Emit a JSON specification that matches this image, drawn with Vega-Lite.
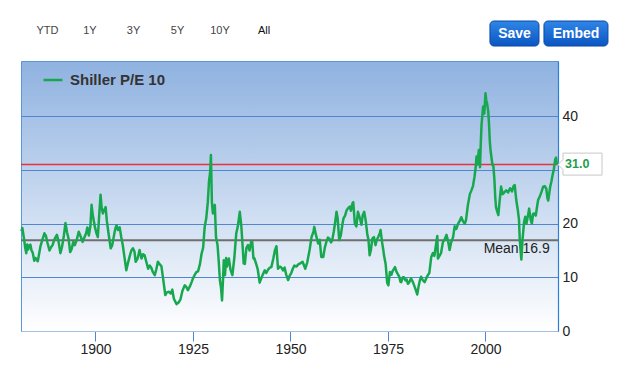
{
  "$schema": "https://vega.github.io/schema/vega-lite/v6.json",
  "width": 537,
  "height": 270,
  "autosize": "none",
  "padding": {"left": 21, "top": 61, "right": 82, "bottom": 43},
  "background": "#ffffff",
  "config": {
    "font": "Liberation Sans",
    "view": {
      "stroke": "#5896dd",
      "strokeWidth": 1,
      "fill": {"gradient": "linear", "x1": 0, "y1": 0, "x2": 0, "y2": 1,
        "stops": [{"offset": 0, "color": "#8fb2e0"}, {"offset": 1, "color": "#ffffff"}]}
    }
  },
  "layer": [
    {
      "data": {"values": [{}]},
      "mark": {"type": "rule", "color": "#6e6e6e", "strokeWidth": 2},
      "encoding": {"y": {"datum": 16.9, "type": "quantitative", "scale": {"domain": [0, 50.3], "nice": false}}}
    },
    {
      "data": {"values": [{}]},
      "mark": {"type": "rule", "color": "#e8313a", "strokeWidth": 1.5},
      "encoding": {"y": {"datum": 31.0, "type": "quantitative"}}
    },
    {
      "data": {"values": [{}]},
      "mark": {"type": "text", "align": "right", "baseline": "alphabetic", "dy": 12.4, "fontSize": 14, "color": "#222222"},
      "encoding": {
        "x": {"datum": 2016.5, "type": "quantitative"},
        "y": {"datum": 16.9, "type": "quantitative"},
        "text": {"value": "Mean:16.9"}
      }
    },
    {
      "data": {"values": [
        {"year":1881.0,"pe":18.6},{"year":1881.25,"pe":19.2},{"year":1881.5,"pe":18.0},{"year":1881.75,"pe":16.8},
        {"year":1882.0,"pe":15.4},{"year":1882.25,"pe":14.5},{"year":1882.5,"pe":16.1},{"year":1882.75,"pe":15.2},
        {"year":1883.0,"pe":15.9},{"year":1883.3,"pe":16.1},{"year":1883.6,"pe":15.0},{"year":1883.9,"pe":14.6},
        {"year":1884.3,"pe":13.1},{"year":1884.6,"pe":13.6},{"year":1884.9,"pe":13.3},{"year":1885.2,"pe":13.0},
        {"year":1885.5,"pe":14.2},{"year":1885.9,"pe":15.8},{"year":1886.3,"pe":16.8},{"year":1886.9,"pe":18.2},
        {"year":1887.3,"pe":17.7},{"year":1887.7,"pe":16.4},{"year":1888.2,"pe":15.0},{"year":1888.6,"pe":15.6},
        {"year":1889.0,"pe":16.0},{"year":1889.5,"pe":17.1},{"year":1890.1,"pe":17.9},{"year":1890.5,"pe":16.8},
        {"year":1891.0,"pe":14.5},{"year":1891.4,"pe":15.6},{"year":1891.9,"pe":17.8},{"year":1892.3,"pe":20.1},
        {"year":1892.7,"pe":18.4},{"year":1893.1,"pe":17.2},{"year":1893.5,"pe":14.7},{"year":1893.9,"pe":15.3},
        {"year":1894.3,"pe":16.6},{"year":1894.7,"pe":16.0},{"year":1895.2,"pe":17.0},{"year":1895.7,"pe":18.5},
        {"year":1896.2,"pe":17.6},{"year":1896.7,"pe":16.6},{"year":1897.2,"pe":17.5},{"year":1897.6,"pe":18.2},
        {"year":1897.9,"pe":19.3},{"year":1898.3,"pe":17.8},{"year":1898.7,"pe":19.6},{"year":1899.0,"pe":23.5},
        {"year":1899.3,"pe":21.6},{"year":1899.6,"pe":20.4},{"year":1899.9,"pe":19.2},{"year":1900.3,"pe":18.1},
        {"year":1900.6,"pe":17.5},{"year":1900.9,"pe":21.0},{"year":1901.3,"pe":25.4},{"year":1901.6,"pe":22.8},
        {"year":1901.9,"pe":21.9},{"year":1902.2,"pe":22.5},{"year":1902.6,"pe":23.1},{"year":1902.9,"pe":20.6},
        {"year":1903.3,"pe":18.4},{"year":1903.9,"pe":15.4},{"year":1904.3,"pe":16.0},{"year":1904.8,"pe":18.0},
        {"year":1905.1,"pe":19.1},{"year":1905.4,"pe":19.7},{"year":1905.8,"pe":18.8},{"year":1906.2,"pe":19.3},
        {"year":1906.6,"pe":17.5},{"year":1907.0,"pe":16.0},{"year":1907.5,"pe":13.4},{"year":1907.9,"pe":11.3},
        {"year":1908.3,"pe":12.6},{"year":1908.8,"pe":14.0},{"year":1909.2,"pe":15.0},{"year":1909.6,"pe":15.4},
        {"year":1910.0,"pe":14.8},{"year":1910.3,"pe":12.9},{"year":1910.8,"pe":13.5},{"year":1911.3,"pe":15.1},
        {"year":1911.8,"pe":13.5},{"year":1912.2,"pe":14.3},{"year":1912.6,"pe":14.1},{"year":1913.0,"pe":13.0},
        {"year":1913.5,"pe":11.6},{"year":1913.9,"pe":12.2},{"year":1914.3,"pe":11.8},{"year":1914.7,"pe":11.0},
        {"year":1915.2,"pe":10.4},{"year":1915.6,"pe":11.5},{"year":1916.0,"pe":12.9},{"year":1916.5,"pe":12.4},
        {"year":1916.9,"pe":12.1},{"year":1917.3,"pe":10.0},{"year":1917.9,"pe":6.7},{"year":1918.3,"pe":7.2},
        {"year":1918.8,"pe":7.3},{"year":1919.3,"pe":7.0},{"year":1919.7,"pe":7.7},{"year":1920.1,"pe":6.0},
        {"year":1920.8,"pe":5.0},{"year":1921.3,"pe":5.3},{"year":1921.8,"pe":5.9},{"year":1922.3,"pe":7.5},
        {"year":1922.9,"pe":8.5},{"year":1923.3,"pe":8.2},{"year":1923.7,"pe":7.6},{"year":1924.2,"pe":8.3},
        {"year":1924.7,"pe":9.2},{"year":1925.0,"pe":9.8},{"year":1925.4,"pe":10.4},{"year":1925.9,"pe":11.0},
        {"year":1926.3,"pe":11.1},{"year":1926.8,"pe":12.5},{"year":1927.2,"pe":14.4},{"year":1927.6,"pe":15.5},
        {"year":1928.0,"pe":19.4},{"year":1928.4,"pe":21.0},{"year":1928.8,"pe":24.0},{"year":1929.1,"pe":27.8},
        {"year":1929.4,"pe":29.6},{"year":1929.6,"pe":32.8},{"year":1929.85,"pe":24.0},{"year":1930.1,"pe":21.9},
        {"year":1930.3,"pe":22.6},{"year":1930.6,"pe":23.5},{"year":1930.9,"pe":17.5},{"year":1931.3,"pe":16.0},
        {"year":1931.6,"pe":13.0},{"year":1931.9,"pe":9.5},{"year":1932.2,"pe":8.0},{"year":1932.45,"pe":5.7},
        {"year":1932.7,"pe":9.6},{"year":1932.9,"pe":13.2},{"year":1933.2,"pe":10.4},{"year":1933.5,"pe":13.6},
        {"year":1933.7,"pe":12.0},{"year":1934.2,"pe":13.5},{"year":1934.6,"pe":11.5},{"year":1935.1,"pe":10.4},
        {"year":1935.6,"pe":13.6},{"year":1936.1,"pe":18.2},{"year":1936.5,"pe":19.5},{"year":1937.0,"pe":22.2},
        {"year":1937.4,"pe":19.5},{"year":1937.8,"pe":15.0},{"year":1938.0,"pe":12.6},{"year":1938.3,"pe":12.5},
        {"year":1938.7,"pe":15.5},{"year":1939.1,"pe":16.0},{"year":1939.5,"pe":15.0},{"year":1939.9,"pe":16.6},
        {"year":1940.2,"pe":16.6},{"year":1940.5,"pe":13.5},{"year":1940.7,"pe":13.6},{"year":1941.2,"pe":12.5},
        {"year":1941.6,"pe":11.5},{"year":1942.1,"pe":9.0},{"year":1942.5,"pe":9.8},{"year":1942.9,"pe":10.5},
        {"year":1943.4,"pe":11.3},{"year":1943.8,"pe":10.8},{"year":1944.3,"pe":11.5},{"year":1944.7,"pe":11.8},
        {"year":1945.1,"pe":11.9},{"year":1945.6,"pe":13.5},{"year":1946.0,"pe":15.0},{"year":1946.4,"pe":15.8},
        {"year":1946.8,"pe":11.6},{"year":1947.3,"pe":12.0},{"year":1947.7,"pe":11.8},{"year":1948.1,"pe":11.3},
        {"year":1948.5,"pe":11.8},{"year":1948.9,"pe":10.5},{"year":1949.4,"pe":9.5},{"year":1949.8,"pe":10.3},
        {"year":1950.2,"pe":10.8},{"year":1950.6,"pe":11.6},{"year":1951.0,"pe":12.2},{"year":1951.5,"pe":12.0},
        {"year":1952.0,"pe":12.4},{"year":1952.5,"pe":12.6},{"year":1953.1,"pe":12.9},{"year":1953.8,"pe":11.6},
        {"year":1954.3,"pe":12.8},{"year":1954.9,"pe":15.1},{"year":1955.4,"pe":17.5},{"year":1955.9,"pe":18.5},
        {"year":1956.1,"pe":19.4},{"year":1956.5,"pe":18.0},{"year":1957.1,"pe":16.3},{"year":1957.5,"pe":17.0},
        {"year":1957.9,"pe":13.8},{"year":1958.4,"pe":13.8},{"year":1958.8,"pe":15.5},{"year":1959.2,"pe":16.6},
        {"year":1959.6,"pe":17.4},{"year":1960.0,"pe":17.2},{"year":1960.4,"pe":16.5},{"year":1960.7,"pe":16.9},
        {"year":1961.1,"pe":18.5},{"year":1961.5,"pe":20.5},{"year":1961.8,"pe":22.2},{"year":1962.1,"pe":21.0},
        {"year":1962.5,"pe":16.9},{"year":1962.9,"pe":17.8},{"year":1963.3,"pe":19.8},{"year":1963.6,"pe":21.0},
        {"year":1964.0,"pe":21.5},{"year":1964.4,"pe":22.5},{"year":1964.7,"pe":22.8},{"year":1965.2,"pe":23.2},
        {"year":1965.5,"pe":22.4},{"year":1965.9,"pe":23.8},{"year":1966.1,"pe":24.0},{"year":1966.5,"pe":20.0},
        {"year":1966.9,"pe":19.5},{"year":1967.3,"pe":22.2},{"year":1967.8,"pe":21.0},{"year":1968.2,"pe":19.8},
        {"year":1968.5,"pe":21.5},{"year":1968.9,"pe":22.2},{"year":1969.3,"pe":20.5},{"year":1969.7,"pe":18.0},
        {"year":1970.0,"pe":17.0},{"year":1970.3,"pe":14.1},{"year":1970.6,"pe":15.0},{"year":1971.0,"pe":17.2},
        {"year":1971.4,"pe":17.5},{"year":1971.8,"pe":16.0},{"year":1972.1,"pe":16.9},{"year":1972.5,"pe":17.5},
        {"year":1972.9,"pe":18.2},{"year":1973.1,"pe":18.8},{"year":1973.5,"pe":16.5},{"year":1973.8,"pe":15.1},
        {"year":1974.0,"pe":14.0},{"year":1974.4,"pe":12.5},{"year":1974.8,"pe":9.0},{"year":1975.1,"pe":8.5},
        {"year":1975.5,"pe":11.0},{"year":1975.9,"pe":10.5},{"year":1976.2,"pe":11.2},{"year":1976.5,"pe":11.5},
        {"year":1976.8,"pe":11.9},{"year":1977.2,"pe":11.0},{"year":1977.6,"pe":10.5},{"year":1977.9,"pe":10.1},
        {"year":1978.2,"pe":9.2},{"year":1978.4,"pe":9.1},{"year":1978.8,"pe":10.0},{"year":1979.1,"pe":10.0},
        {"year":1979.5,"pe":9.4},{"year":1979.8,"pe":9.6},{"year":1980.1,"pe":8.8},{"year":1980.4,"pe":9.0},
        {"year":1980.9,"pe":9.8},{"year":1981.4,"pe":9.1},{"year":1981.8,"pe":8.3},{"year":1982.2,"pe":7.5},
        {"year":1982.5,"pe":6.8},{"year":1982.9,"pe":8.5},{"year":1983.2,"pe":9.5},{"year":1983.5,"pe":10.1},
        {"year":1983.9,"pe":9.5},{"year":1984.4,"pe":9.1},{"year":1984.8,"pe":9.8},{"year":1985.2,"pe":10.4},
        {"year":1985.6,"pe":10.8},{"year":1986.1,"pe":13.8},{"year":1986.5,"pe":14.5},{"year":1986.9,"pe":14.0},
        {"year":1987.4,"pe":16.5},{"year":1987.65,"pe":17.7},{"year":1987.8,"pe":13.5},{"year":1988.2,"pe":14.0},
        {"year":1988.6,"pe":14.5},{"year":1989.1,"pe":16.6},{"year":1989.5,"pe":17.0},{"year":1990.0,"pe":17.9},
        {"year":1990.4,"pe":16.8},{"year":1990.8,"pe":15.1},{"year":1991.2,"pe":16.5},{"year":1991.7,"pe":17.5},
        {"year":1992.1,"pe":19.5},{"year":1992.5,"pe":19.0},{"year":1993.0,"pe":20.0},{"year":1993.4,"pe":20.5},
        {"year":1993.8,"pe":21.2},{"year":1994.2,"pe":20.5},{"year":1994.7,"pe":20.0},{"year":1995.0,"pe":20.6},
        {"year":1995.5,"pe":23.5},{"year":1996.0,"pe":25.5},{"year":1996.4,"pe":26.2},{"year":1996.8,"pe":27.0},
        {"year":1997.2,"pe":28.8},{"year":1997.5,"pe":30.5},{"year":1997.7,"pe":32.5},{"year":1997.9,"pe":31.0},
        {"year":1998.3,"pe":33.7},{"year":1998.6,"pe":30.5},{"year":1998.8,"pe":35.0},{"year":1999.0,"pe":38.5},
        {"year":1999.4,"pe":41.8},{"year":1999.7,"pe":40.5},{"year":2000.0,"pe":44.3},{"year":2000.2,"pe":43.0},
        {"year":2000.4,"pe":42.4},{"year":2000.7,"pe":41.0},{"year":2000.9,"pe":38.7},{"year":2001.1,"pe":35.5},
        {"year":2001.3,"pe":33.7},{"year":2001.6,"pe":32.0},{"year":2001.8,"pe":30.9},{"year":2002.0,"pe":31.0},
        {"year":2002.3,"pe":28.1},{"year":2002.5,"pe":25.0},{"year":2002.7,"pe":23.1},{"year":2002.9,"pe":22.5},
        {"year":2003.3,"pe":21.6},{"year":2003.6,"pe":24.0},{"year":2004.0,"pe":26.9},{"year":2004.4,"pe":25.5},
        {"year":2004.8,"pe":25.8},{"year":2005.3,"pe":26.2},{"year":2005.8,"pe":25.8},{"year":2006.3,"pe":26.6},
        {"year":2006.8,"pe":26.0},{"year":2007.2,"pe":27.0},{"year":2007.5,"pe":27.2},{"year":2007.9,"pe":24.4},
        {"year":2008.3,"pe":22.5},{"year":2008.6,"pe":20.7},{"year":2008.8,"pe":17.0},{"year":2008.95,"pe":15.5},
        {"year":2009.2,"pe":13.3},{"year":2009.5,"pe":17.0},{"year":2009.9,"pe":20.3},{"year":2010.2,"pe":21.3},
        {"year":2010.5,"pe":20.0},{"year":2010.9,"pe":21.5},{"year":2011.2,"pe":22.8},{"year":2011.6,"pe":20.7},
        {"year":2011.9,"pe":20.0},{"year":2012.2,"pe":21.8},{"year":2012.5,"pe":21.9},{"year":2012.9,"pe":21.5},
        {"year":2013.2,"pe":23.0},{"year":2013.5,"pe":24.4},{"year":2013.9,"pe":25.0},{"year":2014.4,"pe":26.0},
        {"year":2014.8,"pe":26.9},{"year":2015.2,"pe":27.0},{"year":2015.6,"pe":26.5},{"year":2015.9,"pe":24.7},
        {"year":2016.1,"pe":24.3},{"year":2016.6,"pe":26.9},{"year":2016.9,"pe":27.8},{"year":2017.2,"pe":29.0},
        {"year":2017.5,"pe":30.0},{"year":2017.9,"pe":32.0},{"year":2018.1,"pe":32.3},{"year":2018.3,"pe":31.2},
        {"year":2018.5,"pe":31.5}
      ]},
      "mark": {"type": "line", "strokeWidth": 2.5, "strokeJoin": "round"},
      "encoding": {
        "x": {"field": "year", "type": "quantitative", "scale": {"domain": [1880.9, 2018.6], "nice": false, "zero": false},
          "axis": {"title": null, "values": [1900, 1925, 1950, 1975, 2000], "format": "d", "grid": false,
            "domainColor": "#a7bfe4", "tickColor": "#4f86cf", "tickSize": 10, "labelFontSize": 14,
            "labelColor": "#222222", "labelPadding": 1, "labelFont": "Liberation Sans"}},
        "y": {"field": "pe", "type": "quantitative",
          "axis": {"title": null, "orient": "right", "values": [0, 10, 20, 30, 40], "grid": true, "gridColor": "#4f86d2",
            "gridWidth": 1, "ticks": false, "domainColor": "#2a80d8", "domainWidth": 1.2, "labelFontSize": 14,
            "labelColor": "#222222", "labelPadding": 4, "labelFont": "Liberation Sans",
            "labelExpr": "datum.value == 30 ? '' : datum.label"}},
        "color": {"datum": "Shiller P/E 10", "type": "nominal", "scale": {"range": ["#17a84f"]},
          "legend": {"title": null, "orient": "none", "legendX": 21, "legendY": 8, "symbolType": "stroke",
            "symbolSize": 361, "symbolStrokeWidth": 2.5, "labelFontSize": 15, "labelFontWeight": "bold",
            "labelColor": "#333333", "labelFont": "Liberation Sans", "labelOffset": 6}}
      }
    },
    {
      "data": {"values": [{}]},
      "mark": {"type": "point", "filled": true, "fill": "#ffffff", "stroke": "#c8c8c8", "strokeWidth": 1, "opacity": 1,
        "size": 400, "shape": "M0,0L0.5,-0.5L0.5,-1.15L4.4,-1.15L4.4,1.05L0.5,1.05L0.5,0.5Z"},
      "encoding": {"x": {"datum": 2018.6, "type": "quantitative"}, "y": {"datum": 31.0, "type": "quantitative"}}
    },
    {
      "data": {"values": [{}]},
      "mark": {"type": "text", "align": "left", "baseline": "alphabetic", "dx": 7, "dy": 3, "fontSize": 12.5, "fontWeight": "bold", "color": "#1e9e4c"},
      "encoding": {"x": {"datum": 2018.6, "type": "quantitative"}, "y": {"datum": 31.0, "type": "quantitative"}, "text": {"value": "31.0"}}
    },
    {
      "data": {"values": [{}]},
      "mark": {"type": "rect", "cornerRadius": 4, "stroke": "#0a4aa8", "strokeWidth": 1,
        "fill": {"gradient": "linear", "x1": 0, "y1": 0, "x2": 0, "y2": 1, "stops": [{"offset": 0, "color": "#2f86e6"}, {"offset": 1, "color": "#0b55c2"}]}},
      "encoding": {"x": {"datum": 2001.15, "type": "quantitative"}, "x2": {"datum": 2013.72}, "y": {"datum": 57.75, "type": "quantitative"}, "y2": {"datum": 53.09}}
    },
    {
      "data": {"values": [{}]},
      "mark": {"type": "rect", "cornerRadius": 4, "stroke": "#0a4aa8", "strokeWidth": 1,
        "fill": {"gradient": "linear", "x1": 0, "y1": 0, "x2": 0, "y2": 1, "stops": [{"offset": 0, "color": "#2f86e6"}, {"offset": 1, "color": "#0b55c2"}]}},
      "encoding": {"x": {"datum": 2015.0, "type": "quantitative"}, "x2": {"datum": 2031.41}, "y": {"datum": 57.75, "type": "quantitative"}, "y2": {"datum": 53.09}}
    },
    {
      "data": {"values": [{}]},
      "mark": {"type": "text", "align": "center", "baseline": "middle", "fontSize": 14, "fontWeight": "bold", "color": "#ffffff"},
      "encoding": {"x": {"datum": 2007.44, "type": "quantitative"}, "y": {"datum": 55.42, "type": "quantitative"}, "text": {"value": "Save"}}
    },
    {
      "data": {"values": [{}]},
      "mark": {"type": "text", "align": "center", "baseline": "middle", "fontSize": 14, "fontWeight": "bold", "color": "#ffffff"},
      "encoding": {"x": {"datum": 2023.21, "type": "quantitative"}, "y": {"datum": 55.42, "type": "quantitative"}, "text": {"value": "Embed"}}
    },
    {
      "data": {"values": [{}]},
      "mark": {"type": "text", "align": "center", "baseline": "middle", "fontSize": 11, "color": "#444444"},
      "encoding": {"x": {"datum": 1887.69, "type": "quantitative"}, "y": {"datum": 55.89, "type": "quantitative"}, "text": {"value": "YTD"}}
    },
    {
      "data": {"values": [{}]},
      "mark": {"type": "text", "align": "center", "baseline": "middle", "fontSize": 11, "color": "#444444"},
      "encoding": {"x": {"datum": 1898.59, "type": "quantitative"}, "y": {"datum": 55.89, "type": "quantitative"}, "text": {"value": "1Y"}}
    },
    {
      "data": {"values": [{}]},
      "mark": {"type": "text", "align": "center", "baseline": "middle", "fontSize": 11, "color": "#444444"},
      "encoding": {"x": {"datum": 1909.75, "type": "quantitative"}, "y": {"datum": 55.89, "type": "quantitative"}, "text": {"value": "3Y"}}
    },
    {
      "data": {"values": [{}]},
      "mark": {"type": "text", "align": "center", "baseline": "middle", "fontSize": 11, "color": "#444444"},
      "encoding": {"x": {"datum": 1921.03, "type": "quantitative"}, "y": {"datum": 55.89, "type": "quantitative"}, "text": {"value": "5Y"}}
    },
    {
      "data": {"values": [{}]},
      "mark": {"type": "text", "align": "center", "baseline": "middle", "fontSize": 11, "color": "#444444"},
      "encoding": {"x": {"datum": 1931.93, "type": "quantitative"}, "y": {"datum": 55.89, "type": "quantitative"}, "text": {"value": "10Y"}}
    },
    {
      "data": {"values": [{}]},
      "mark": {"type": "text", "align": "center", "baseline": "middle", "fontSize": 11, "color": "#111111"},
      "encoding": {"x": {"datum": 1943.21, "type": "quantitative"}, "y": {"datum": 55.89, "type": "quantitative"}, "text": {"value": "All"}}
    }
  ]
}
